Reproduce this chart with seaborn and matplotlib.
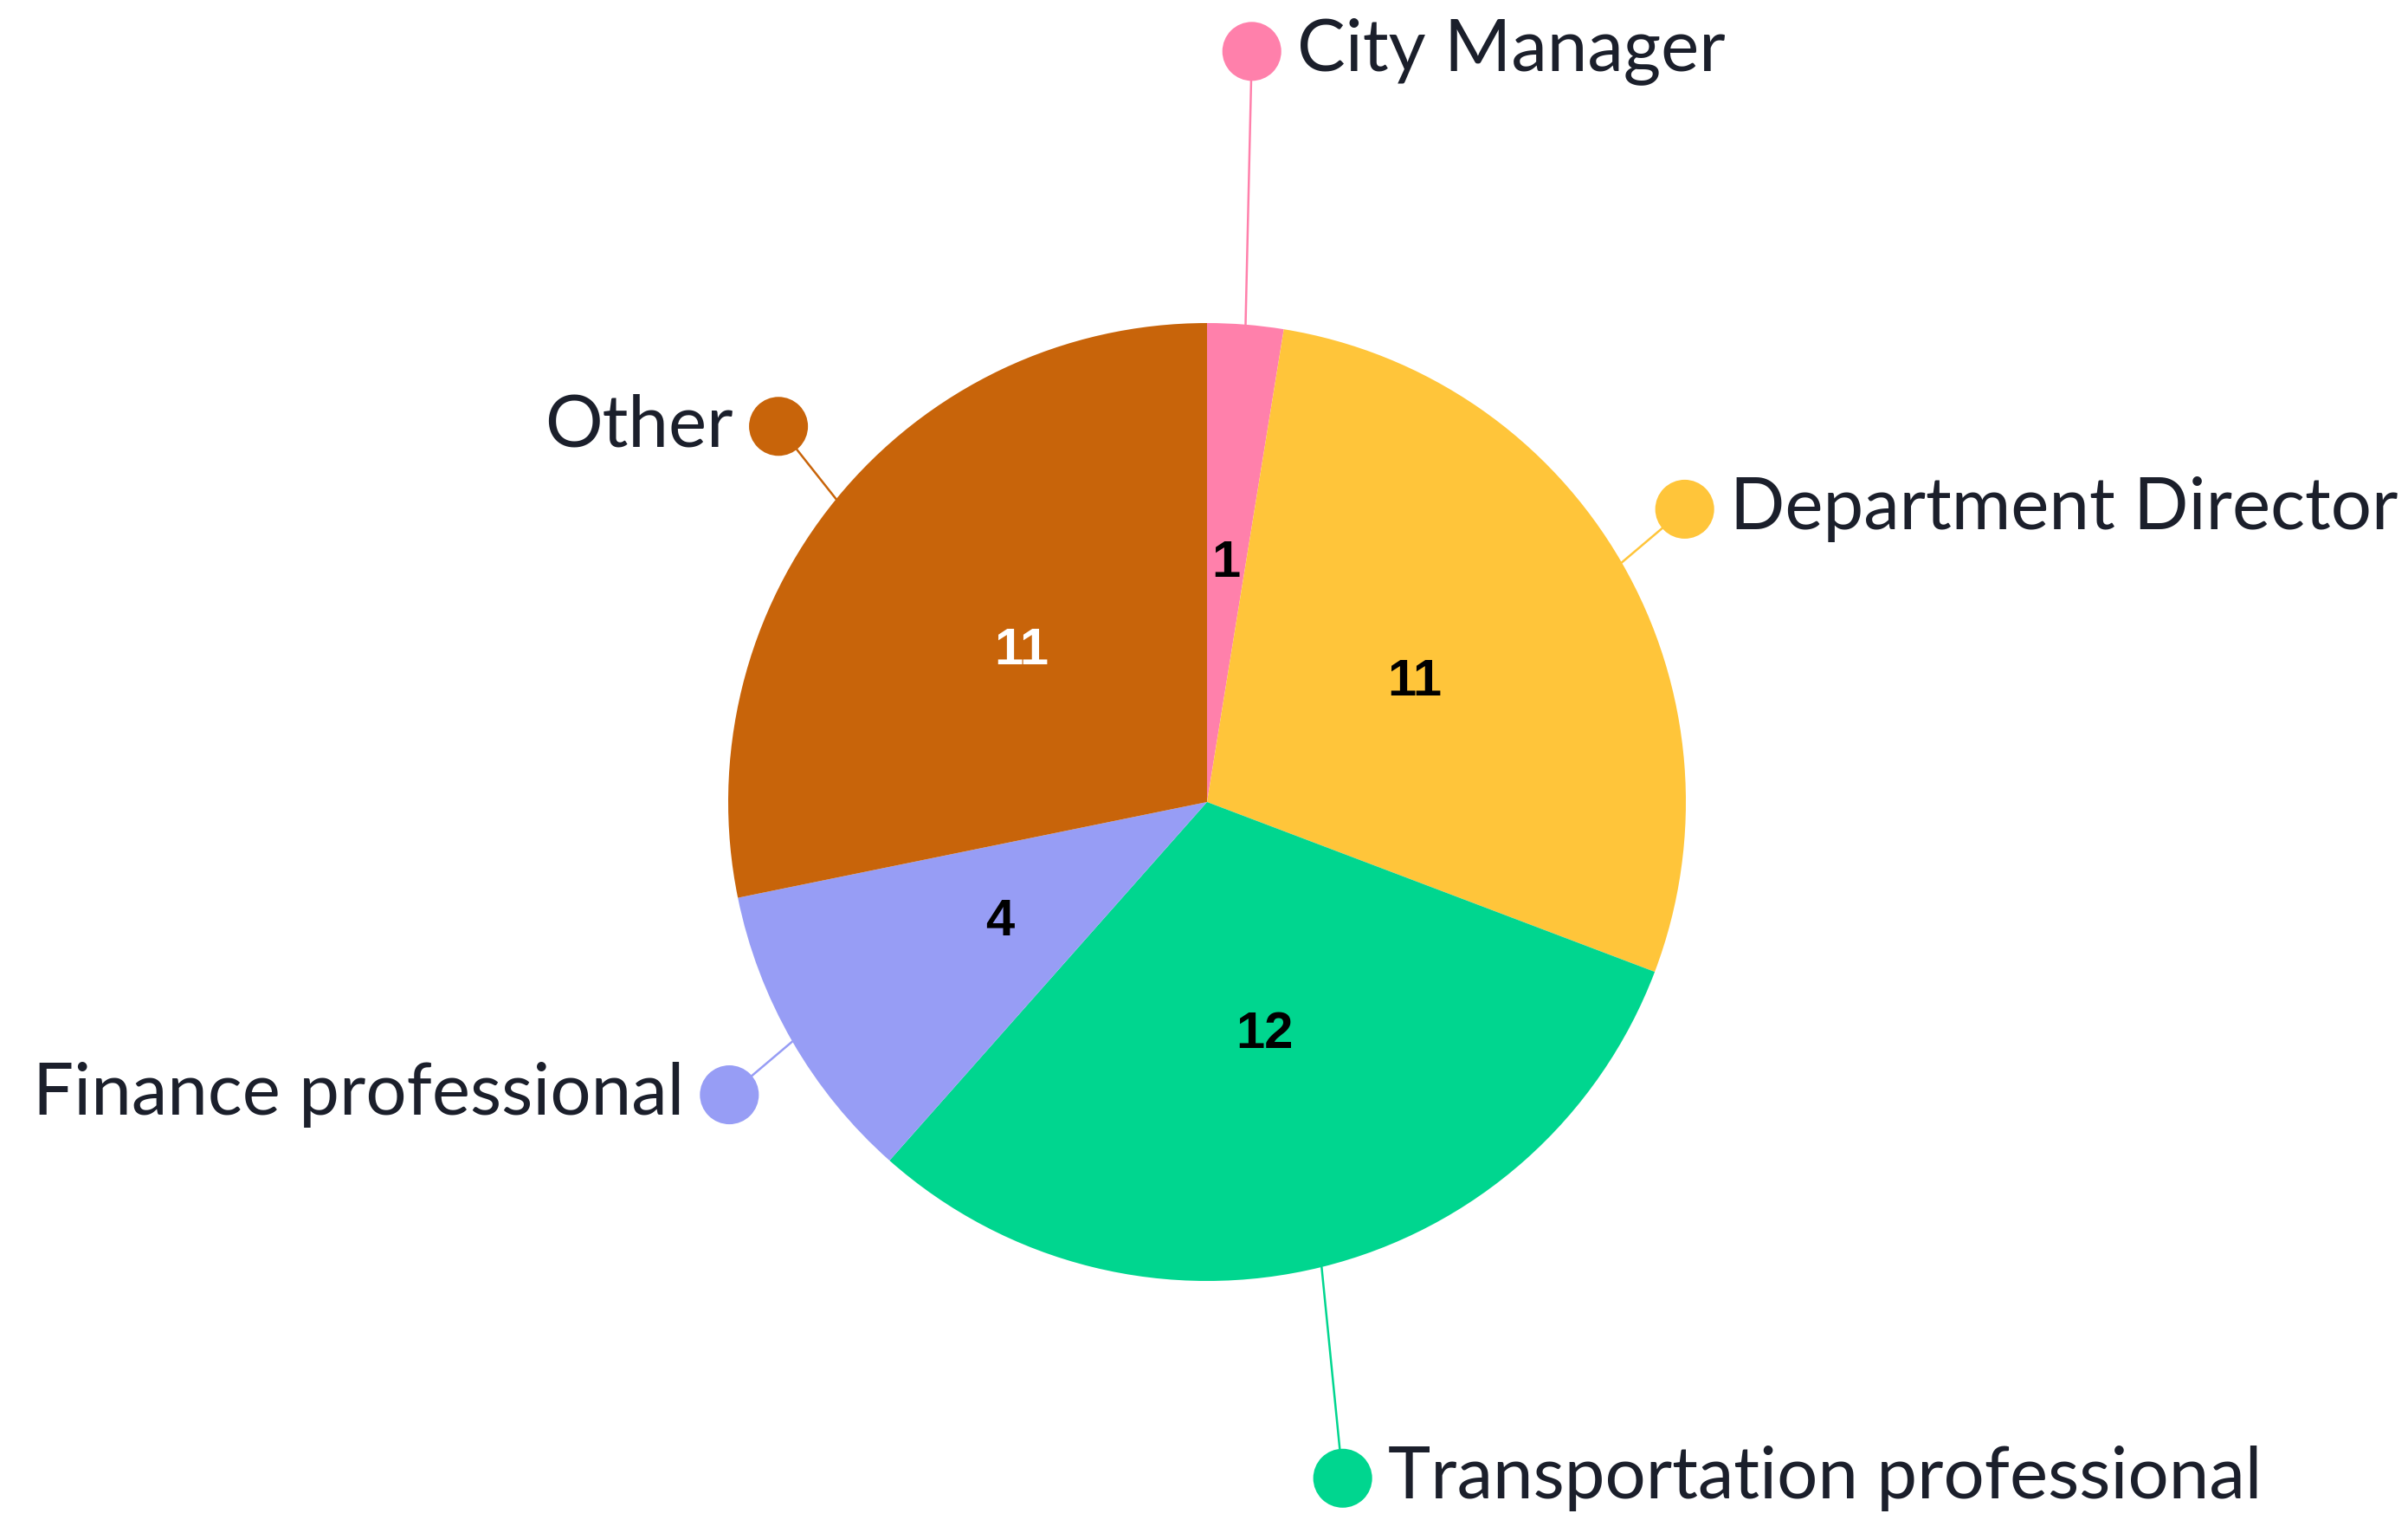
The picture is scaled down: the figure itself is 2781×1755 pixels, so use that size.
import numpy as np
import matplotlib
matplotlib.use("Agg")
import matplotlib.pyplot as plt
import seaborn as sns
import pandas as pd

# ---- data ----
categories = ["City Manager", "Department Director", "Transportation professional",
              "Finance professional", "Other"]
values = [1, 11, 12, 4, 11]
colors = ["#FF80AB", "#FFC53A", "#00D68F", "#979DF5", "#C8640A"]
value_text_colors = ["#000000", "#000000", "#000000", "#000000", "#FFFFFF"]

# label placement (style): radial distance of the dot, angle nudge (deg), side of text
label_dist = [1.57, 1.17, 1.44, 1.17, 1.19]
angle_nudge = [1.2, 1.5, -2.5, 1.5, -2.0]
text_side = ["right", "right", "right", "left", "left"]

sns.set_theme(style="white")
plt.rcParams["font.family"] = ["Lato", "DejaVu Sans"]

W, H, DPI = 2781, 1755, 100
fig = plt.figure(figsize=(W / DPI, H / DPI), dpi=DPI, facecolor="white")
ax = fig.add_axes([0, 0, 1, 1])
ax.set_facecolor("white")

R_PX = 553.0
cx, cy = 1394.0, 1755 - 926.0
xlim = (-cx / R_PX, (W - cx) / R_PX)
ylim = (-cy / R_PX, (H - cy) / R_PX)

df = pd.DataFrame({"category": categories, "value": values})

wedges, texts = ax.pie(df["value"], colors=colors, startangle=90, counterclock=False,
                       radius=1.0, labels=[str(v) for v in df["value"]],
                       labeldistance=0.5,
                       wedgeprops=dict(linewidth=0),
                       textprops=dict(fontsize=43, fontweight="bold",
                                      family=["Liberation Sans", "DejaVu Sans"]))
for t, c in zip(texts, value_text_colors):
    t.set_color(c)
    t.set_ha("center")
    t.set_va("center")

# leader lines, dots, category labels
dot_x, dot_y = [], []
for i, w in enumerate(wedges):
    mid = np.deg2rad((w.theta1 + w.theta2) / 2.0)
    ang = mid + np.deg2rad(angle_nudge[i])
    ex, ey = np.cos(mid), np.sin(mid)
    dx, dy = label_dist[i] * np.cos(ang), label_dist[i] * np.sin(ang)
    ax.plot([ex, dx], [ey, dy], color=colors[i], lw=1.8, zorder=1, solid_capstyle="round")
    dot_x.append(dx)
    dot_y.append(dy)

dots = pd.DataFrame({"x": dot_x, "y": dot_y, "category": categories})
sns.scatterplot(data=dots, x="x", y="y", hue="category", palette=colors,
                s=49 ** 2, linewidth=0, legend=False, ax=ax, zorder=3)

gap = 52 / R_PX
for i, cat in enumerate(categories):
    if text_side[i] == "right":
        ax.text(dot_x[i] + gap, dot_y[i], cat, ha="left", va="center",
                fontsize=60, color="#1B1F2B", zorder=4)
    else:
        ax.text(dot_x[i] - gap, dot_y[i], cat, ha="right", va="center",
                fontsize=60, color="#1B1F2B", zorder=4)

ax.set_xlabel("")
ax.set_ylabel("")
ax.set_xlim(*xlim)
ax.set_ylim(*ylim)
ax.set_aspect("equal", adjustable="box")
ax.axis("off")
fig.savefig("out.png", dpi=DPI, facecolor="white")
